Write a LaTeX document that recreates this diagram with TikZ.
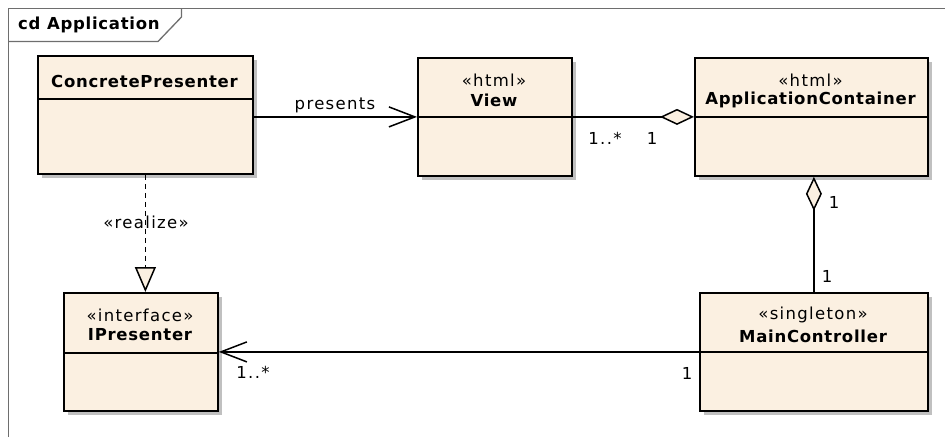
\documentclass[tikz,border=0pt]{standalone}
\usepackage{fontspec}
\setmainfont{DejaVu Sans}[LetterSpace=8,BoldFeatures={LetterSpace=4.5}]
\usetikzlibrary{arrows.meta,shadows}
\definecolor{cream}{RGB}{251,240,225}
\definecolor{framegray}{RGB}{110,110,110}
\definecolor{shadowgray}{RGB}{192,192,192}
\begin{document}
\begin{tikzpicture}[x=1pt,y=-1pt,
  every node/.style={font=\fontsize{16.5pt}{19pt}\selectfont, inner sep=0pt},
  cls/.style={draw=black, line width=1.8pt, fill=cream, anchor=north west, inner sep=0pt,
    drop shadow={shadow xshift=4.5pt, shadow yshift=-4.5pt, fill=shadowgray, opacity=1}},
  divider/.style={draw=black, line width=1.5pt},
  clsname/.style={font=\fontsize{16.5pt}{19pt}\selectfont\bfseries},
  stereo/.style={},
  assoc/.style={draw=black, line width=1.5pt},
  mult/.style={},
  openarrow/.style={-{Straight Barb[length=26pt,width=20pt]}},
  aggr/.style={{Diamond[fill=cream,length=34pt,width=16pt]}-},
  realize/.style={assoc, dash pattern=on 5pt off 4pt, -{Triangle[fill=cream,length=25pt,width=21pt]}}
]
\useasboundingbox (0,0) rectangle (945,437);
% frame
\draw[framegray, line width=1.3pt] (8.5,437) -- (8.5,8.5) -- (945,8.5);
\draw[framegray, line width=1.3pt] (8.5,41.5) -- (158,41.5) -- (181.5,17) -- (181.5,8.5);
\node[clsname, anchor=west] (title) at (18,25) {cd Application};

% classes
\node[cls, minimum width=215pt, minimum height=118pt] (cp) at (37,55) {};
\draw[divider] (cp.west |- 0,99) -- (cp.east |- 0,99);
\node[clsname] (cpname) at (144.5,81) {ConcretePresenter};

\node[cls, minimum width=154pt, minimum height=118pt] (view) at (417,57) {};
\draw[divider] (view.west |- 0,117) -- (view.east |- 0,117);
\node[stereo] (viewst) at (494,80) {«html»};
\node[clsname] (viewname) at (494,100) {View};

\node[cls, minimum width=233pt, minimum height=118pt] (ac) at (694,57) {};
\draw[divider] (ac.west |- 0,117) -- (ac.east |- 0,117);
\node[stereo] (acst) at (810.5,80) {«html»};
\node[clsname] (acname) at (810.5,100) {ApplicationContainer};

\node[cls, minimum width=154pt, minimum height=118pt] (ip) at (63,292) {};
\draw[divider] (ip.west |- 0,353) -- (ip.east |- 0,353);
\node[stereo] (ipst) at (140,315) {«interface»};
\node[clsname] (ipname) at (140,335) {IPresenter};

\node[cls, minimum width=228pt, minimum height=118pt] (mc) at (699,292) {};
\draw[divider] (mc.west |- 0,352) -- (mc.east |- 0,352);
\node[stereo] (mcst) at (813,315) {«singleton»};
\node[clsname] (mcname) at (813,336) {MainController};

% connectors
\draw[assoc, openarrow] (cp.east |- view.west) -- (view.west);
\node (presents) at (335,105) {presents};

\draw[assoc, aggr] (ac.west) -- (view.east);
\node[mult] (m1) at (605,138) {1..*};
\node[mult] (m2) at (652,138) {1};

\draw[assoc, aggr] (ac.south -| mc.north) -- (mc.north);
\node[mult] (m3) at (834,202) {1};
\node[mult] (m4) at (827,276) {1};

\draw[assoc, openarrow] (mc.west) -- (ip.east |- mc.west);
\node[mult] (m5) at (687,373) {1};
\node[mult] (m6) at (253,372) {1..*};

\draw[realize] (cp.south) -- (cp.south |- ip.north);
\node (realizelbl) at (146,222) {«realize»};
\end{tikzpicture}
\end{document}
